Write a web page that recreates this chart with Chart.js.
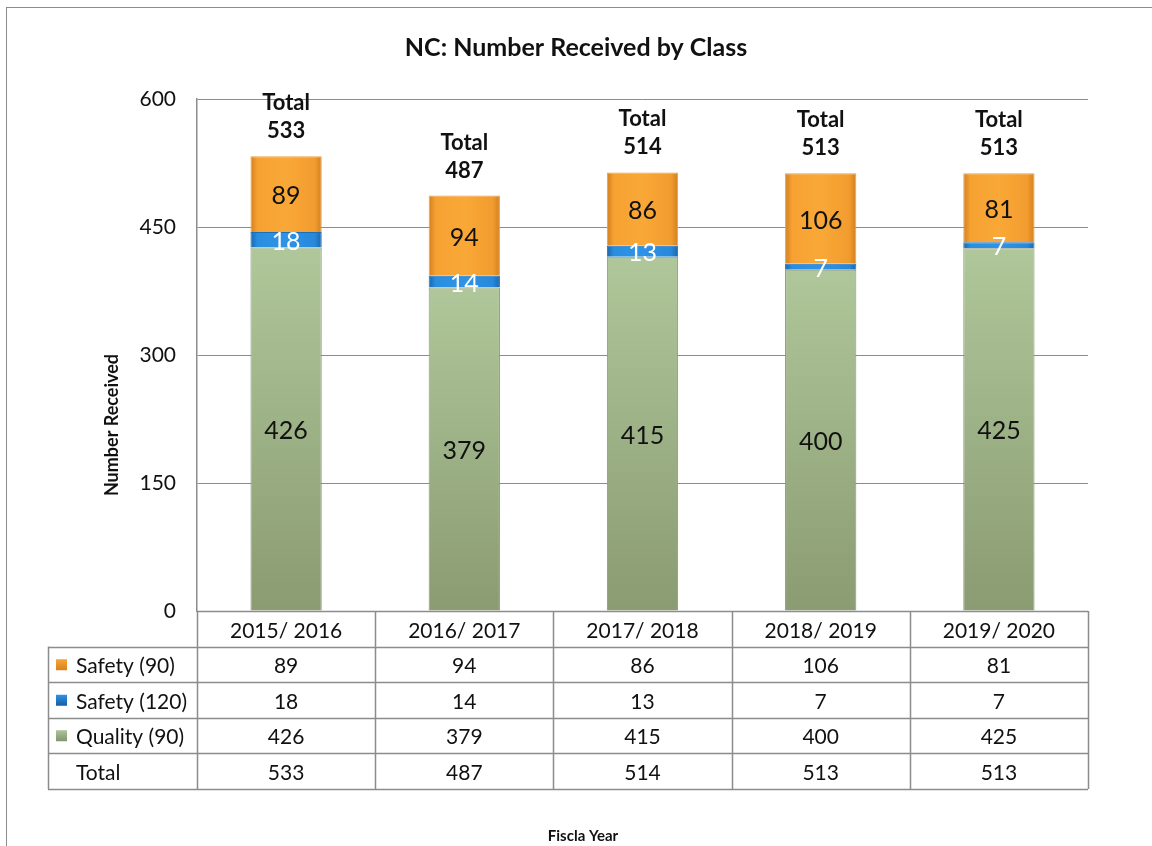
<!DOCTYPE html>
<html>
<head>
<meta charset="utf-8">
<script src="https://cdn.jsdelivr.net/npm/chart.js@4"></script>
<style>
  html, body { margin: 0; padding: 0; background: #fff; }
  #wrap { width: 1152px; height: 846px; position: relative; }
</style>
</head>
<body>
<div id="wrap"><canvas id="ncChart" width="1152" height="846"></canvas></div>
<script>
// データ
const years = ['2015/ 2016', '2016/ 2017', '2017/ 2018', '2018/ 2019', '2019/ 2020'];
const quality90 = [426, 379, 415, 400, 425];
const safety120 = [18, 14, 13, 7, 7];
const safety90 = [89, 94, 86, 106, 81];
const totals = [533, 487, 514, 513, 513];
const yTicks = [0, 150, 300, 450, 600];

const FONT = 'Lato, "Open Sans", sans-serif';
const GRID = '#8c8c8c';

// 横方向のグラデーション（エクセル風の立体感）
function hGrad(ctx, stops) {
  const chart = ctx.chart;
  const x = chart.scales.x;
  if (!x || !chart.chartArea) return stops[2][1];
  const cx = x.getPixelForValue(ctx.dataIndex);
  const half = (chart.chartArea.width / years.length) * 0.4 / 2;
  const g = chart.ctx.createLinearGradient(cx - half, 0, cx + half, 0);
  stops.forEach(s => g.addColorStop(s[0], s[1]));
  return g;
}

// 縦方向のグラデーション（緑のバー用）
function vGrad(ctx, top, bottom) {
  const chart = ctx.chart;
  const y = chart.scales.y;
  if (!y || !chart.chartArea) return top;
  const t = y.getPixelForValue(quality90[ctx.dataIndex]);
  const g = chart.ctx.createLinearGradient(0, t, 0, y.getPixelForValue(0));
  g.addColorStop(0, top);
  g.addColorStop(1, bottom);
  return g;
}

// 上の Total ラベル、セグメントの値、下の表
const annotate = {
  id: 'annotate',
  afterDatasetsDraw(chart) {
    const c = chart.ctx;
    const x = chart.scales.x;
    const y = chart.scales.y;
    c.save();
    c.textAlign = 'center';
    c.textBaseline = 'middle';

    // 各セグメントの値
    const segColors = ['#111', '#fff', '#111'];
    chart.data.datasets.forEach((ds, di) => {
      const meta = chart.getDatasetMeta(di);
      meta.data.forEach((bar, i) => {
        const mid = (bar.y + bar.base) / 2;
        c.fillStyle = segColors[di];
        c.font = '25px ' + FONT;
        c.fillText(String(ds.data[i]), bar.x, mid + 2);
      });
    });

    // Total ラベル
    c.fillStyle = '#111';
    c.font = 'bold 22px ' + FONT;
    totals.forEach((t, i) => {
      const px = x.getPixelForValue(i);
      const top = y.getPixelForValue(t);
      c.fillText('Total', px, top - 53);
      c.fillText(String(t), px, top - 25);
    });

    // 表
    const area = chart.chartArea;
    const colW = (area.right - area.left) / years.length;
    const rowH = 35.5;
    const tableTop = area.bottom;
    const tableLeft = 48;
    const rows = [
      { label: 'Safety (90)', vals: safety90, color: '#f8a536', edge: '#d27f1e' },
      { label: 'Safety (120)', vals: safety120, color: '#2e93e6', edge: '#16589c' },
      { label: 'Quality (90)', vals: quality90, color: '#abc496', edge: '#7f906a' },
      { label: 'Total', vals: totals, color: null }
    ];
    const tableBottom = tableTop + rowH * (rows.length + 1) + 1;

    c.strokeStyle = GRID;
    c.lineWidth = 1.5;
    c.beginPath();
    // 横線
    c.moveTo(area.left, tableTop + 0.5);
    c.lineTo(area.right, tableTop + 0.5);
    for (let r = 1; r <= rows.length + 1; r++) {
      const yy = Math.round(tableTop + rowH * r) + 0.5;
      c.moveTo(tableLeft, yy);
      c.lineTo(area.right, yy);
    }
    // 縦線
    c.moveTo(tableLeft + 0.5, tableTop + rowH);
    c.lineTo(tableLeft + 0.5, tableBottom - 0.5);
    for (let k = 0; k <= years.length; k++) {
      const xx = Math.round(area.left + colW * k) + 0.5;
      c.moveTo(xx, tableTop);
      c.lineTo(xx, tableBottom - 0.5);
    }
    c.stroke();

    c.font = '21px ' + FONT;
    c.fillStyle = '#111';
    years.forEach((yr, i) => {
      c.fillText(yr, x.getPixelForValue(i), tableTop + rowH / 2 + 2);
    });
    rows.forEach((row, r) => {
      const cy = tableTop + rowH * (r + 1) + rowH / 2 + 2;
      if (row.color) {
        const g = c.createLinearGradient(0, cy - 7, 0, cy + 5);
        g.addColorStop(0, row.color);
        g.addColorStop(1, row.edge);
        c.fillStyle = g;
        c.fillRect(56, cy - 7, 11, 11);
      }
      c.fillStyle = '#111';
      c.textAlign = 'left';
      c.fillText(row.label, 76, cy);
      c.textAlign = 'center';
      row.vals.forEach((v, i) => {
        c.fillText(String(v), x.getPixelForValue(i), cy);
      });
    });

    // タイトル類
    c.font = 'bold 25px ' + FONT;
    c.fillText('NC: Number Received by Class', 576, 48);
    c.font = 'bold 15px ' + FONT;
    c.fillText('Fiscla Year', 583, 836);

    // 縦軸タイトル
    c.save();
    c.translate(112, 425);
    c.rotate(-Math.PI / 2);
    c.font = 'bold 18px ' + FONT;
    c.fillText('Number Received', 0, 0);
    c.restore();

    // 外枠
    c.strokeStyle = '#8c8c8c';
    c.lineWidth = 1;
    c.strokeRect(6.5, 7.5, 1160, 860);
    c.restore();
  }
};

const ctx = document.getElementById('ncChart').getContext('2d');
const ncChart = new Chart(ctx, {
  type: 'bar',
  data: {
    labels: years,
    datasets: [
      {
        label: 'Quality (90)',
        data: quality90,
        backgroundColor: c => vGrad(c, '#afc79a', '#8b9b72'),
        borderColor: '#87977a',
        borderWidth: 1
      },
      {
        label: 'Safety (120)',
        data: safety120,
        backgroundColor: c => hGrad(c, [[0, '#1a66ad'], [0.1, '#2a8ee0'], [0.5, '#2e93e6'], [0.9, '#2888da'], [1, '#1a66ad']]),
        borderColor: '#1b6fb8',
        borderWidth: 1
      },
      {
        label: 'Safety (90)',
        data: safety90,
        backgroundColor: c => hGrad(c, [[0, '#d27f1e'], [0.1, '#f6a233'], [0.5, '#f9a837'], [0.9, '#f29c2f'], [1, '#d27f1e']]),
        borderColor: '#eaa044',
        borderWidth: 1
      }
    ]
  },
  options: {
    responsive: false,
    animation: false,
    layout: { padding: { left: 100, right: 64, top: 99, bottom: 235 } },
    plugins: {
      legend: { display: false },
      title: { display: false },
      tooltip: { enabled: false }
    },
    datasets: { bar: { barPercentage: 0.4, categoryPercentage: 1 } },
    scales: {
      x: {
        stacked: true,
        display: false
      },
      y: {
        stacked: true,
        min: 0,
        max: 600,
        afterBuildTicks: s => { s.ticks = yTicks.map(v => ({ value: v })); },
        afterFit: s => { s.width = 97; },
        grid: { color: GRID, lineWidth: 1, drawTicks: false },
        border: { display: true, color: GRID, width: 1.5 },
        ticks: {
          padding: 21,
          color: '#111',
          font: { family: FONT, size: 21 }
        }
      }
    }
  },
  plugins: [annotate]
});
</script>
</body>
</html>
